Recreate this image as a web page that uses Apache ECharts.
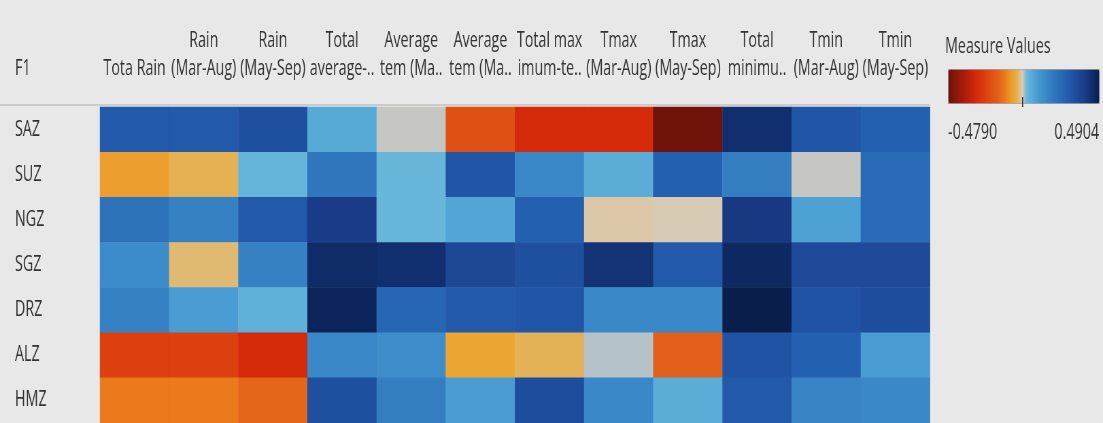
<!DOCTYPE html>
<html>
<head>
<meta charset="utf-8">
<script src="https://cdn.jsdelivr.net/npm/echarts@6/dist/echarts.min.js"></script>
<style>
  html, body { margin: 0; padding: 0; width: 1103px; height: 423px; overflow: hidden; background: #e8e8e8; }
  #chart { width: 1622px; height: 423px; transform: scaleX(0.68); transform-origin: 0 0; }
</style>
</head>
<body>
<div id="chart"></div>
<script>
// Zones (rows, top to bottom)
const zones = ['SAZ', 'SUZ', 'NGZ', 'SGZ', 'DRZ', 'ALZ', 'HMZ'];

// Climate measures (columns, left to right)
const measures = [
  'Tota Rain', 'Rain (Mar-Aug)', 'Rain (May-Sep)', 'Total average-temperature',
  'Average tem (Mar-Aug)', 'Average tem (May-Sep)', 'Total maximum-temperature',
  'Tmax (Mar-Aug)', 'Tmax (May-Sep)', 'Total minimum-temperature',
  'Tmin (Mar-Aug)', 'Tmin (May-Sep)'
];

// Two-line column headers as shown
const headerTop = ['', 'Rain', 'Rain', 'Total', 'Average', 'Average', 'Total max', 'Tmax', 'Tmax', 'Total', 'Tmin', 'Tmin'];
const headerBottom = ['Tota Rain', '(Mar-Aug)', '(May-Sep)', 'average-..', 'tem (Ma..', 'tem (Ma..', 'imum-te..', '(Mar-Aug)', '(May-Sep)', 'minimu..', '(Mar-Aug)', '(May-Sep)'];

// Correlation values per zone, one entry per measure
const SAZ = [0.30, 0.30, 0.33, 0.06, 0.003, -0.20, -0.30, -0.30, -0.479, 0.44, 0.31, 0.28];
const SUZ = [-0.07, -0.04, 0.03, 0.20, 0.025, 0.31, 0.15, 0.05, 0.28, 0.18, 0.003, 0.24];
const NGZ = [0.21, 0.17, 0.30, 0.40, 0.025, 0.07, 0.28, -0.01, -0.005, 0.41, 0.08, 0.24];
const SGZ = [0.14, -0.025, 0.17, 0.45, 0.44, 0.36, 0.33, 0.43, 0.30, 0.46, 0.35, 0.35];
const DRZ = [0.17, 0.09, 0.04, 0.47, 0.26, 0.30, 0.31, 0.15, 0.15, 0.4904, 0.32, 0.34];
const ALZ = [-0.24, -0.24, -0.30, 0.15, 0.13, -0.06, -0.035, 0.006, -0.16, 0.32, 0.28, 0.09];
const HMZ = [-0.12, -0.12, -0.15, 0.33, 0.18, 0.09, 0.34, 0.15, 0.05, 0.30, 0.16, 0.15];

const zoneValues = [SAZ, SUZ, NGZ, SGZ, DRZ, ALZ, HMZ];

// Legend range
const legendMin = -0.4790;
const legendMax = 0.4904;

// Diverging colour ramp: value -> colour
const rampStops = [
  [-0.479, '#6e120a'], [-0.40, '#9c1a0a'], [-0.30, '#d42a0a'], [-0.24, '#dc400e'],
  [-0.16, '#e2601a'], [-0.12, '#ea7a1c'], [-0.06, '#eca632'], [-0.03, '#e2b460'],
  [-0.01, '#dcc8a8'], [0.0, '#d2cec4'], [0.004, '#c2c4c2'], [0.008, '#a8c2d0'],
  [0.02, '#6ab8dc'], [0.06, '#56aad6'], [0.10, '#4698d0'], [0.15, '#3a88c8'],
  [0.20, '#2f76bc'], [0.28, '#2460b0'], [0.33, '#1f50a0'], [0.40, '#1a3c88'],
  [0.45, '#0f2c68'], [0.4904, '#0a1e4c']
];

function hexToRgb(h) {
  return [parseInt(h.slice(1, 3), 16), parseInt(h.slice(3, 5), 16), parseInt(h.slice(5, 7), 16)];
}
function rampColor(v) {
  if (v <= rampStops[0][0]) return rampStops[0][1];
  for (let i = 1; i < rampStops.length; i++) {
    if (v <= rampStops[i][0]) {
      const [v0, c0] = rampStops[i - 1];
      const [v1, c1] = rampStops[i];
      const t = (v - v0) / (v1 - v0);
      const a = hexToRgb(c0), b = hexToRgb(c1);
      const m = a.map((x, k) => Math.round(x + (b[k] - x) * t));
      return 'rgb(' + m.join(',') + ')';
    }
  }
  return rampStops[rampStops.length - 1][1];
}
// Evenly spaced palette across the legend range for the visualMap
const paletteSize = 400;
const palette = [];
for (let i = 0; i < paletteSize; i++) {
  palette.push(rampColor(legendMin + (legendMax - legendMin) * i / (paletteSize - 1)));
}

// Layout (the canvas is squeezed horizontally by S via CSS)
const S = 0.68;
const W = 1103 / S;
const px = v => v / S;
const FONT = 'Open Sans';
const TEXT = '#333333';
const barLeft = px(948), barLen = px(151), barTop = 69, barThick = 34;

const heatData = [];
zoneValues.forEach((row, yi) => row.forEach((v, xi) => heatData.push([xi, yi, v])));

const chart = echarts.init(document.getElementById('chart'), null, { renderer: 'canvas', width: W, height: 423 });

const zeroX = barLeft + (0 - legendMin) / (legendMax - legendMin) * barLen;

chart.setOption({
  backgroundColor: '#e8e8e8',
  animation: false,
  textStyle: { fontFamily: FONT, color: TEXT },
  grid: { left: px(100), right: W - px(930), top: 107, bottom: 0 },
  xAxis: {
    type: 'category',
    position: 'top',
    data: measures,
    axisLine: { show: false },
    axisTick: { show: false },
    splitLine: { show: false },
    axisLabel: {
      interval: 0,
      margin: 24,
      fontFamily: FONT,
      fontSize: 21,
      lineHeight: 28,
      color: TEXT,
      formatter: (val, idx) => headerTop[idx] ? headerTop[idx] + '\n' + headerBottom[idx] : headerBottom[idx]
    }
  },
  yAxis: {
    type: 'category',
    inverse: true,
    data: zones,
    axisLine: { show: false },
    axisTick: { show: false },
    splitLine: { show: false },
    axisLabel: { margin: px(85), align: 'left', fontFamily: FONT, fontSize: 21, color: TEXT }
  },
  visualMap: {
    type: 'continuous',
    min: legendMin,
    max: legendMax,
    orient: 'horizontal',
    left: barLeft,
    top: barTop,
    itemWidth: barThick,
    itemHeight: barLen,
    text: ['', ''],
    textGap: 0,
    calculable: false,
    padding: 0,
    borderColor: '#9a9a9a',
    borderWidth: 1,
    inRange: { color: palette }
  },
  graphic: [
    { type: 'line', shape: { x1: 0, y1: 105, x2: px(930), y2: 105 }, style: { stroke: '#c2c2c2', lineWidth: 1.5 }, silent: true },
    { type: 'text', x: px(15), y: 69, style: { text: 'F1', font: '21px "' + FONT + '"', fill: TEXT, verticalAlign: 'middle', align: 'left' } },
    { type: 'text', x: px(945), y: 47, style: { text: 'Measure Values', font: '21px "' + FONT + '"', fill: TEXT, verticalAlign: 'middle', align: 'left' } },
    { type: 'line', shape: { x1: zeroX, y1: barTop + barThick - 6, x2: zeroX, y2: barTop + barThick + 4 }, style: { stroke: '#222', lineWidth: 1.5 }, z: 100 },
    { type: 'text', x: barLeft, y: 133, style: { text: legendMin.toFixed(4), font: '21px "' + FONT + '"', fill: TEXT, verticalAlign: 'middle', align: 'left' } },
    { type: 'text', x: barLeft + barLen, y: 133, style: { text: legendMax.toFixed(4), font: '21px "' + FONT + '"', fill: TEXT, verticalAlign: 'middle', align: 'right' } }
  ],
  series: [{
    type: 'heatmap',
    data: heatData,
    itemStyle: { borderWidth: 0 },
    emphasis: { disabled: true },
    label: { show: false }
  }]
});
</script>
</body>
</html>
